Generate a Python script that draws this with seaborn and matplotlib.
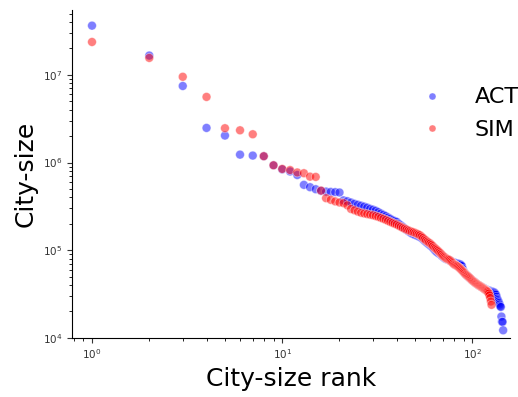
import numpy as np
import pandas as pd
import matplotlib
matplotlib.use("Agg")
import matplotlib.pyplot as plt
import seaborn as sns

# city sizes, sorted by rank
act_sizes = [
    3.64e7, 1.66e7, 7.46e6, 2.48e6, 2.03e6, 1.23e6, 1.20e6, 1.18e6, 9.3e5, 8.35e5,
    7.9e5, 7.2e5, 5.56e5, 5.23e5, 4.96e5, 4.75e5, 4.66e5, 4.62e5, 4.59e5, 4.55e5,
    3.7e5, 3.62e5, 3.5e5, 3.38e5, 3.3e5, 3.22e5, 3.14e5, 3.06e5, 2.96e5, 2.9e5,
    2.82e5, 2.72e5, 2.62e5, 2.53e5, 2.45e5, 2.36e5, 2.28e5, 2.2e5, 2.15e5, 2.1e5,
    2.0e5, 1.92e5, 1.85e5, 1.77e5, 1.7e5, 1.65e5, 1.6e5, 1.55e5, 1.52e5, 1.49e5,
    1.47e5, 1.44e5, 1.41e5, 1.38e5, 1.33e5, 1.28e5, 1.24e5, 1.2e5, 1.17e5, 1.13e5,
    1.1e5, 1.06e5, 1.02e5, 9.8e4, 9.5e4, 9.3e4, 9.1e4, 8.9e4, 8.6e4, 8.4e4,
    8.2e4, 8.0e4, 7.9e4, 7.8e4, 7.7e4, 7.6e4, 7.5e4, 7.4e4, 7.3e4, 7.2e4,
    7.15e4, 7.1e4, 7.05e4, 7.0e4, 6.95e4, 6.9e4, 6.8e4, 6.6e4, 6.1e4, 5.7e4,
    5.5e4, 5.35e4, 5.2e4, 5.1e4, 5.0e4, 4.9e4, 4.8e4, 4.7e4, 4.6e4, 4.52e4,
    4.45e4, 4.38e4, 4.3e4, 4.22e4, 4.15e4, 4.08e4, 4.02e4, 3.96e4, 3.92e4, 3.88e4,
    3.84e4, 3.8e4, 3.76e4, 3.72e4, 3.68e4, 3.64e4, 3.6e4, 3.56e4, 3.53e4, 3.5e4,
    3.48e4, 3.46e4, 3.44e4, 3.42e4, 3.4e4, 3.38e4, 3.36e4, 3.34e4, 3.32e4, 3.3e4,
    3.25e4, 3.18e4, 3.1e4, 2.95e4, 2.8e4, 2.7e4, 2.6e4, 2.5e4, 2.4e4, 2.3e4,
    2.25e4, 1.75e4, 1.53e4, 1.52e4, 1.22e4,
]
sim_sizes = [
    2.37e7, 1.56e7, 9.5e6, 5.6e6, 2.46e6, 2.33e6, 2.1e6, 1.18e6, 9.3e5, 8.45e5,
    8.2e5, 7.7e5, 7.55e5, 6.9e5, 6.85e5, 4.78e5, 3.92e5, 3.75e5, 3.6e5, 3.5e5,
    3.44e5, 3.25e5, 2.95e5, 2.85e5, 2.75e5, 2.67e5, 2.62e5, 2.58e5, 2.54e5, 2.5e5,
    2.45e5, 2.4e5, 2.34e5, 2.28e5, 2.22e5, 2.16e5, 2.1e5, 2.05e5, 2.0e5, 1.96e5,
    1.9e5, 1.85e5, 1.8e5, 1.76e5, 1.72e5, 1.68e5, 1.65e5, 1.62e5, 1.6e5, 1.57e5,
    1.54e5, 1.51e5, 1.48e5, 1.43e5, 1.38e5, 1.33e5, 1.29e5, 1.25e5, 1.22e5, 1.19e5,
    1.15e5, 1.11e5, 1.07e5, 1.04e5, 1.01e5, 9.8e4, 9.5e4, 9.2e4, 8.9e4, 8.6e4,
    8.4e4, 8.2e4, 8.0e4, 7.9e4, 7.8e4, 7.7e4, 7.5e4, 7.3e4, 7.1e4, 6.9e4,
    6.8e4, 6.7e4, 6.6e4, 6.5e4, 6.35e4, 6.2e4, 6.05e4, 5.9e4, 5.75e4, 5.6e4,
    5.45e4, 5.3e4, 5.2e4, 5.1e4, 5.0e4, 4.9e4, 4.8e4, 4.7e4, 4.6e4, 4.5e4,
    4.42e4, 4.35e4, 4.28e4, 4.21e4, 4.15e4, 4.09e4, 4.03e4, 3.98e4, 3.93e4, 3.88e4,
    3.83e4, 3.78e4, 3.73e4, 3.68e4, 3.63e4, 3.58e4, 3.53e4, 3.48e4, 3.43e4, 3.38e4,
    3.3e4, 3.2e4, 3.05e4, 2.85e4, 2.6e4, 2.38e4,
]
series_names = ["ACT", "SIM"]
series_colors = ["blue", "red"]

df = pd.concat([
    pd.DataFrame({"rank": np.arange(1, len(act_sizes) + 1), "size": act_sizes, "src": "ACT"}),
    pd.DataFrame({"rank": np.arange(1, len(sim_sizes) + 1), "size": sim_sizes, "src": "SIM"}),
])

fig = plt.figure(figsize=(5.18, 3.97), dpi=100)
ax = fig.add_axes([0.139, 0.149, 0.846, 0.826])

sns.scatterplot(data=df, x="rank", y="size", hue="src", hue_order=series_names,
                palette=series_colors, alpha=0.5, s=40, edgecolor="white",
                linewidth=0.5, ax=ax)

ax.set_xscale("log")
ax.set_yscale("log")
ax.set_xlim(0.785, 158)
ax.set_ylim(1e4, 5.5e7)
ax.tick_params(labelsize=7.5, colors="#333333")
ax.set_xlabel("City-size rank", fontsize=18)
ax.set_ylabel("City-size", fontsize=18)
sns.despine(ax=ax)

leg = ax.legend(loc="upper right", bbox_to_anchor=(1.065, 0.825), frameon=False,
                fontsize=16, markerscale=0.8, handletextpad=0.9, labelspacing=0.55)

fig.savefig("out.png", dpi=100)
